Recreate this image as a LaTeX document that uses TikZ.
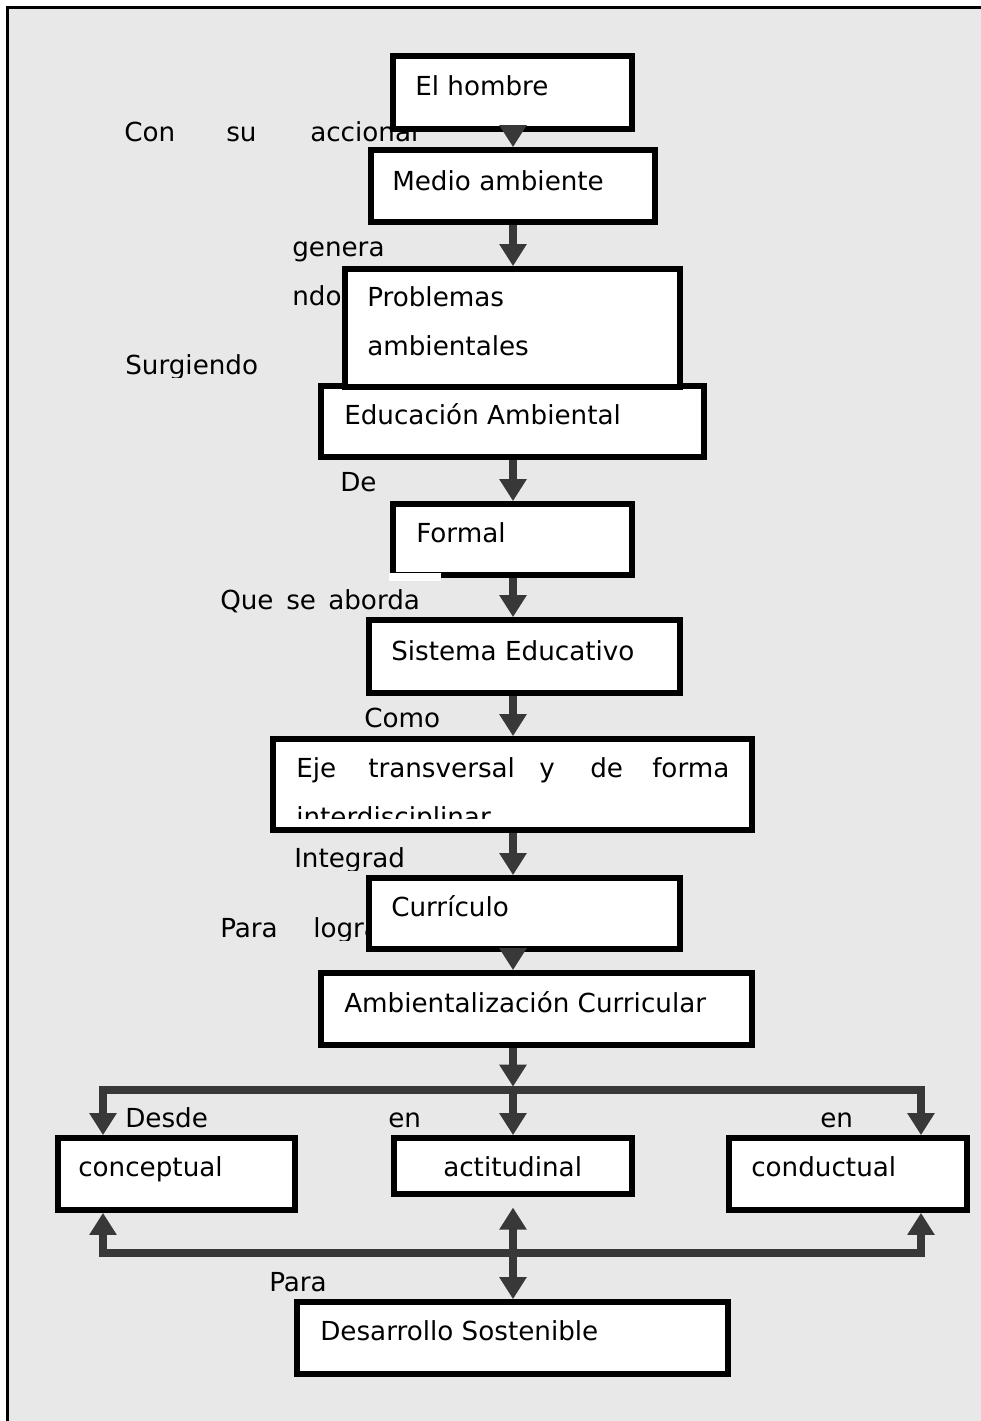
\documentclass[tikz,border=0pt]{standalone}
\usepackage{fontspec}
\setmainfont{DejaVu Sans}
\usetikzlibrary{arrows.meta,fit}
\definecolor{panel}{HTML}{E8E8E8}
\definecolor{arrowgray}{HTML}{383838}
\newcommand{\mapfont}{\fontsize{19.65pt}{23pt}\selectfont}
\begin{document}
\begin{tikzpicture}[x=0.75pt,y=-0.75pt,
  box/.style={draw=black, fill=white, line width=4.3pt, inner sep=0pt},
  lbl/.style={anchor=base west, inner sep=0pt, font=\mapfont},
  arr/.style={draw=arrowgray, line width=6pt, -{Triangle[width=19.5pt,length=16.5pt]}},
  arrboth/.style={draw=arrowgray, line width=6pt, {Triangle[width=19.5pt,length=16.5pt]}-{Triangle[width=19.5pt,length=16.5pt]}}
]
\useasboundingbox (0,0) rectangle (981,1421);
% page and framed panel
\fill[white] (0,0) rectangle (981,1421);
\fill[panel] (7,7) rectangle (981,1421);
\draw[black, line width=1.9pt] (7.5,1421) -- (7.5,7.5) -- (981,7.5);

% reference lines for the connectors
\coordinate (spine) at (513,0);
\coordinate (lx) at (103,0);
\coordinate (rx) at (921,0);
\coordinate (split) at (513,1090);
\coordinate (merge) at (513,1253);

% link words between the boxes
\node[lbl] (wcon) at (124,141) {Con};
\node[lbl] (wsu) at (226,141) {su};
\node[lbl] (wacc) at (310,141) {accionar};
\node[lbl] (wgen) at (292,256) {genera};
\node[lbl] (wndo) at (292,305) {ndo};
\begin{scope}
  \clip (0,300) rectangle (300,377);
  \node[lbl] (wsur) at (125,374) {Surgiendo};
\end{scope}
\node[lbl] (wde) at (340,491) {De};
\node[lbl] (wque) at (220,609) {Que};
\node[lbl] (wse) at (286,609) {se};
\node[lbl] (wabo) at (328,609) {aborda};
\node[lbl] (wcomo) at (364,727) {Como};
\begin{scope}
  \clip (200,835) rectangle (500,870);
  \node[lbl] (wint) at (294,867) {Integrad};
\end{scope}
\begin{scope}
  \clip (200,900) rectangle (500,940);
  \node[lbl] (wpara) at (220,937) {Para};
  \node[lbl] (wlog) at (313,937) {lograr};
\end{scope}
\node[lbl] (wdesde) at (125,1127) {Desde};
\node[lbl] (wen1) at (388,1127) {en};
\node[lbl] (wen2) at (820,1127) {en};
\node[lbl] (wpara2) at (269,1291) {Para};

% boxes
\node[box, fit={(393,56) (632,129)}] (hombre) {};
\node[box, fit={(371,150) (655,222)}] (medio) {};
\node[box, fit={(321,386) (704,457)}] (educ) {};
\node[box, fit={(345,269) (680,387)}] (prob) {};
\node[box, fit={(393,504) (632,575)}] (formal) {};
\fill[white] (389,573) rectangle (441,581);
\node[box, fit={(369,620) (680,693)}] (sistema) {};
\node[box, fit={(273,739) (752,830)}] (eje) {};
\node[box, fit={(369,878) (680,949)}] (curr) {};
\node[box, fit={(321,973) (752,1045)}] (ambc) {};
\node[box, fit={(58,1138) (295,1210)}] (concep) {};
\node[box, fit={(394,1138) (632,1194)}] (actit) {};
\node[box, fit={(729,1138) (967,1210)}] (conduc) {};
\node[box, fit={(297,1302) (728,1374)}] (desarr) {};

% box texts
\node[lbl] (thombre) at (415,95) {El hombre};
\node[lbl] (tmedio) at (392,190) {Medio ambiente};
\node[lbl] (tprob1) at (367,306) {Problemas};
\node[lbl] (tprob2) at (367,355) {ambientales};
\node[lbl] (teduc) at (344,424) {Educación Ambiental};
\node[lbl] (tformal) at (416,542) {Formal};
\node[lbl] (tsist) at (391,660) {Sistema Educativo};
\node[lbl] (teje1) at (296,777) {Eje};
\node[lbl] (teje2) at (368,777) {transversal};
\node[lbl] (teje3) at (539,777) {y};
\node[lbl] (teje4) at (590,777) {de};
\node[lbl] (teje5) at (652,777) {forma};
\begin{scope}
  \clip (280,790) rectangle (740,818);
  \node[lbl] (teje6) at (296,826) {interdisciplinar};
\end{scope}
\node[lbl] (tcurr) at (391,916) {Currículo};
\node[lbl] (tambc) at (344,1012) {Ambientalización Curricular};
\node[lbl] (tconcep) at (78,1176) {conceptual};
\node[lbl] (tactit) at (443,1176) {actitudinal};
\node[lbl] (tconduc) at (751,1176) {conductual};
\node[lbl] (tdesarr) at (320,1340) {Desarrollo Sostenible};

% connectors down the spine
\draw[arr] (hombre.south -| spine) -- (medio.north -| spine);
\draw[arr] (medio.south -| spine) -- (prob.north -| spine);
\draw[arr] (educ.south -| spine) -- (formal.north -| spine);
\draw[arr] (formal.south -| spine) -- (sistema.north -| spine);
\draw[arr] (sistema.south -| spine) -- (eje.north -| spine);
\draw[arr] (eje.south -| spine) -- (curr.north -| spine);
\draw[arr] (curr.south -| spine) -- (ambc.north -| spine);
\draw[arr, shorten >=2.5pt] (ambc.south -| spine) -- (split);

% fan-out to the three dimensions
\draw[arr, line join=miter] (split) -| (concep.north -| lx);
\draw[arr, line join=miter] (split) -| (conduc.north -| rx);
\draw[arr] (split) -- (actit.north -| spine);

% return lines and the link to the goal
\draw[arr, line join=miter] (merge) -| (concep.south -| lx);
\draw[arr, line join=miter] (merge) -| (conduc.south -| rx);
\draw[arrboth, shorten <=8pt] (actit.south -| spine) -- (desarr.north -| spine);
\end{tikzpicture}
\end{document}
